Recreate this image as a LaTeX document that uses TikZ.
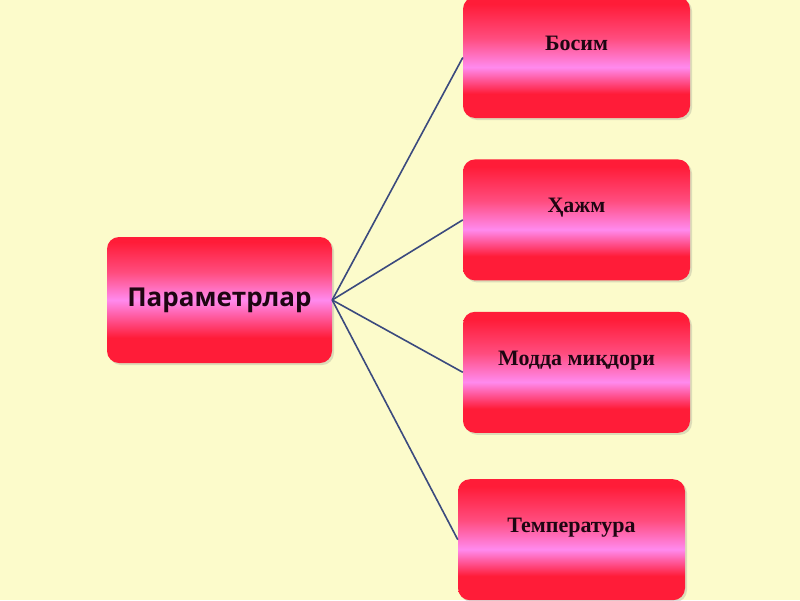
\documentclass[tikz,border=0pt]{standalone}
\usepackage{fontspec}
\setmainfont{Liberation Serif}
\newfontfamily\headfont{Open Sans}
\usetikzlibrary{shapes,positioning,shadows}
\definecolor{bgcol}{HTML}{FCFBCB}
\definecolor{boxred}{HTML}{FF1C38}
\definecolor{boxpink}{HTML}{FF8AEE}
\definecolor{boxrose}{HTML}{FF4C7E}
\definecolor{linkcol}{HTML}{3B4A7E}
\definecolor{textcol}{HTML}{1E0612}
\pgfdeclareverticalshading{valueshade}{100bp}{color(0bp)=(boxred); color(35bp)=(boxred); color(46bp)=(boxpink); color(58bp)=(boxrose); color(72bp)=(boxred); color(100bp)=(boxred)}
\pgfdeclareverticalshading{paramshade}{100bp}{color(0bp)=(boxred); color(35bp)=(boxred); color(50bp)=(boxpink); color(61bp)=(boxrose); color(73bp)=(boxred); color(100bp)=(boxred)}
\tikzstyle{link} = [linkcol, line width=1.6pt]
\tikzset{
  basic box/.style = {
    shape = rectangle,
    rounded corners = 12pt,
    text centered,
    text = textcol,
    drop shadow = {opacity=0.25, shadow xshift=2pt, shadow yshift=-2pt},
    },
  param box/.style = {
    basic box,
    shading = paramshade,
    minimum width = 225pt,
    minimum height = 126pt,
    font = \headfont\bfseries\fontsize{26}{30}\selectfont,
    },
  value box/.style = {
    basic box,
    shading = valueshade,
    minimum width = 227pt,
    minimum height = 121pt,
    text height = 15pt,
    text depth = 29pt,
    font = \bfseries\fontsize{22}{26}\selectfont,
    },
}

\begin{document}
\begin{tikzpicture}[x=1pt,y=-1pt]
    \fill[bgcol] (0,0) rectangle (800,600);
    \useasboundingbox (0,0) rectangle (800,600);

    % parameters
    \node[param box] (params) at (219.5,300) {Параметрлар};

    % values
    \node[value box] (bosim) at (576.5,57.5) {Босим};
    \node[value box, below=41pt of bosim] (hajm) {Ҳажм};
    \node[value box, below=31pt of hajm] (modda) {Модда миқдори};
    \node[value box, below=46pt of modda, xshift=-5pt] (harorat) {Температура};

    % links
    \foreach \v in {bosim,hajm,modda,harorat}
        \draw[link] (params.east) -- (\v.west);
\end{tikzpicture}
\end{document}
